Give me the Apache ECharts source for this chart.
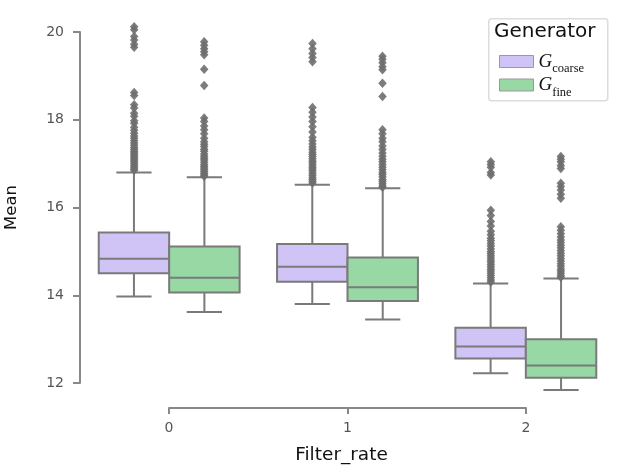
<!DOCTYPE html>
<html lang="en">
<head>
    <meta charset="UTF-8">
    <title>Mean by Filter_rate</title>
    <style>
        html, body { margin: 0; padding: 0; background: #fff; }
        #main { width: 618px; height: 475px; }
    </style>
</head>
<body>
    <div id="main"></div>
    <script src="https://cdn.jsdelivr.net/npm/echarts@6/dist/echarts.min.js"></script>
    <script>
        // x categories (Filter_rate)
        var categories = ['0', '1', '2'];
        var yTicks = [12, 14, 16, 18, 20];

        // [min whisker, q1, median, q3, max whisker] per category
        var coarseBoxes = [
            [13.97, 14.50, 14.83, 15.43, 16.80],
            [13.80, 14.31, 14.65, 15.17, 16.52],
            [12.22, 12.56, 12.83, 13.26, 14.27]
        ];
        var fineBoxes = [
            [13.62, 14.06, 14.40, 15.11, 16.69],
            [13.45, 13.87, 14.18, 14.86, 16.44],
            [11.84, 12.12, 12.40, 13.00, 14.38]
        ];

        // outliers (fliers) per category
        var coarseFliers = [
            [20.12, 20.05, 19.9, 19.82, 19.72, 19.65, 18.62, 18.55, 18.34, 18.27, 18.15, 18.08, 17.98, 17.92,
             17.83, 17.76, 17.69, 17.63, 17.58, 17.52, 17.47, 17.42, 17.37, 17.33, 17.28, 17.24, 17.2, 17.16,
             17.12, 17.08, 17.04, 17.0, 16.96, 16.92, 16.88, 16.85],
            [19.74, 19.62, 19.51, 19.42, 19.32, 18.28, 18.17, 18.06, 17.96, 17.84, 17.72, 17.6, 17.52, 17.45,
             17.38, 17.32, 17.26, 17.21, 17.16, 17.11, 17.06, 17.02, 16.97, 16.92, 16.88, 16.83, 16.78, 16.73,
             16.68, 16.64, 16.6, 16.56],
            [17.04, 16.98, 16.92, 16.8, 16.74, 15.94, 15.82, 15.68, 15.58, 15.46, 15.38, 15.3, 15.24, 15.18,
             15.12, 15.06, 15.0, 14.95, 14.9, 14.85, 14.8, 14.75, 14.7, 14.65, 14.6, 14.55, 14.5, 14.45,
             14.4, 14.35, 14.3]
        ];
        var fineFliers = [
            [19.78, 19.7, 19.62, 19.55, 19.48, 19.15, 18.78, 18.04, 17.96, 17.86, 17.77, 17.68, 17.58, 17.5,
             17.44, 17.39, 17.33, 17.28, 17.22, 17.17, 17.12, 17.08, 17.03, 16.98, 16.94, 16.9, 16.86, 16.82,
             16.78, 16.74, 16.71],
            [19.45, 19.38, 19.3, 19.21, 19.14, 18.83, 18.53, 17.77, 17.68, 17.58, 17.5, 17.4, 17.32, 17.24,
             17.17, 17.1, 17.04, 16.98, 16.92, 16.86, 16.8, 16.75, 16.7, 16.64, 16.59, 16.54, 16.49, 16.46],
            [17.16, 17.1, 17.04, 16.96, 16.89, 16.55, 16.48, 16.4, 16.3, 16.21, 15.56, 15.48, 15.4, 15.33,
             15.26, 15.2, 15.14, 15.08, 15.02, 14.96, 14.9, 14.84, 14.78, 14.72, 14.66, 14.6, 14.55, 14.5,
             14.45, 14.41]
        ];

        var purple = '#d0c3f5';
        var green = '#98d8a5';
        var lineGray = '#7a7a7a';
        var flierGray = '#6e6e6e';
        var boxFrac = 0.395; // box width as share of category band

        function boxRows(boxes) {
            return boxes.map(function (b, i) { return [i].concat(b); });
        }
        function flierRows(fliers) {
            var out = [];
            fliers.forEach(function (list, i) {
                list.forEach(function (v) { out.push([i, v]); });
            });
            return out;
        }

        // side: -1 draws the box left of the category centre, +1 right of it
        function makeBox(side, fill) {
            return function (params, api) {
                var cat = api.value(0);
                var band = api.size([1, 0])[0];
                var w = band * boxFrac;
                var cx = api.coord([cat, api.value(3)])[0];
                var x0 = side < 0 ? cx - w : cx;
                var xc = x0 + w / 2;
                var yMin = api.coord([cat, api.value(1)])[1];
                var yQ1 = api.coord([cat, api.value(2)])[1];
                var yMed = api.coord([cat, api.value(3)])[1];
                var yQ3 = api.coord([cat, api.value(4)])[1];
                var yMax = api.coord([cat, api.value(5)])[1];
                var ln = { stroke: lineGray, lineWidth: 2 };
                return {
                    type: 'group',
                    children: [
                        { type: 'line', shape: { x1: xc, y1: yQ3, x2: xc, y2: yMax }, style: ln },
                        { type: 'line', shape: { x1: xc, y1: yQ1, x2: xc, y2: yMin }, style: ln },
                        { type: 'line', shape: { x1: xc - w / 4, y1: yMax, x2: xc + w / 4, y2: yMax }, style: ln },
                        { type: 'line', shape: { x1: xc - w / 4, y1: yMin, x2: xc + w / 4, y2: yMin }, style: ln },
                        { type: 'rect', shape: { x: x0, y: yQ3, width: w, height: yQ1 - yQ3 },
                          style: { fill: fill, stroke: lineGray, lineWidth: 2 } },
                        { type: 'line', shape: { x1: x0, y1: yMed, x2: x0 + w, y2: yMed }, style: ln }
                    ]
                };
            };
        }

        var myChart = echarts.init(document.getElementById('main'));
        var option = {
            animation: false,
            textStyle: { fontFamily: 'DejaVu Sans' },
            grid: [
                { left: 80, right: 3, top: 32, bottom: 92, outerBoundsMode: 'none' },
                { left: 169, right: 92, top: 407, height: 1, outerBoundsMode: 'none' }
            ],
            xAxis: [
                {
                    type: 'category',
                    data: categories,
                    gridIndex: 0,
                    show: false
                },
                {
                    type: 'value',
                    gridIndex: 1,
                    min: 0,
                    max: 2,
                    interval: 1,
                    name: 'Filter_rate',
                    nameLocation: 'middle',
                    nameGap: 38,
                    nameTextStyle: { fontSize: 18.5, color: '#111', padding: [0, 12, 0, 0] },
                    axisLine: { show: true, lineStyle: { color: '#888', width: 2 } },
                    axisTick: { show: true, length: 6, lineStyle: { color: '#888', width: 2 } },
                    axisLabel: { fontSize: 14, color: '#555', margin: 13,
                        formatter: function (v) { return categories[v]; } },
                    splitLine: { show: false }
                }
            ],
            yAxis: [
                {
                    type: 'value',
                    gridIndex: 0,
                    min: yTicks[0],
                    max: yTicks[yTicks.length - 1],
                    interval: 2,
                    name: 'Mean',
                    nameLocation: 'middle',
                    nameGap: 60,
                    nameTextStyle: { fontSize: 16.5, color: '#111' },
                    axisLine: { show: true, lineStyle: { color: '#888', width: 2 } },
                    axisTick: { show: true, length: 7, lineStyle: { color: '#888', width: 2 } },
                    axisLabel: { fontSize: 14, color: '#555', margin: 16 },
                    splitLine: { show: false }
                },
                { type: 'value', gridIndex: 1, show: false }
            ],
            legend: {
                data: ['coarse', 'fine'],
                orient: 'vertical',
                left: 494,
                top: 47,
                itemWidth: 34,
                itemHeight: 12,
                itemGap: 0,
                icon: 'rect',
                selectedMode: false,
                itemStyle: { borderColor: '#999', borderWidth: 1 },
                formatter: function (name) { return '{g|G}{s|' + name + '}'; },
                textStyle: {
                    rich: {
                        g: { fontFamily: 'Liberation Serif', fontStyle: 'italic', fontSize: 19, color: '#111',
                             lineHeight: 20, verticalAlign: 'middle' },
                        s: { fontFamily: 'Liberation Serif', fontSize: 12.5, color: '#111',
                             lineHeight: 20, verticalAlign: 'bottom', padding: [0, 0, -4, 0] }
                    }
                }
            },
            graphic: [
                {
                    type: 'rect', left: 488, top: 18, z: -1,
                    shape: { width: 119, height: 82, r: 3 },
                    style: { fill: '#fff', stroke: '#dcdcdc', lineWidth: 1.5 }
                },
                {
                    type: 'text', left: 494, top: 22,
                    style: { text: 'Generator', fontSize: 20, fontFamily: 'DejaVu Sans', fill: '#111' }
                }
            ],
            series: [
                {
                    name: 'coarse',
                    type: 'custom',
                    xAxisIndex: 0, yAxisIndex: 0,
                    itemStyle: { color: purple },
                    renderItem: makeBox(-1, purple),
                    encode: { x: 0, y: [1, 2, 3, 4, 5] },
                    data: boxRows(coarseBoxes),
                    z: 2
                },
                {
                    name: 'fine',
                    type: 'custom',
                    xAxisIndex: 0, yAxisIndex: 0,
                    itemStyle: { color: green },
                    renderItem: makeBox(1, green),
                    encode: { x: 0, y: [1, 2, 3, 4, 5] },
                    data: boxRows(fineBoxes),
                    z: 2
                },
                {
                    name: 'coarse fliers',
                    type: 'scatter',
                    xAxisIndex: 0, yAxisIndex: 0,
                    clip: false,
                    symbol: 'diamond',
                    symbolSize: [8.5, 9.5],
                    symbolOffset: [-35, 0],
                    itemStyle: { color: flierGray, opacity: 0.9 },
                    data: flierRows(coarseFliers),
                    z: 3
                },
                {
                    name: 'fine fliers',
                    type: 'scatter',
                    xAxisIndex: 0, yAxisIndex: 0,
                    clip: false,
                    symbol: 'diamond',
                    symbolSize: [8.5, 9.5],
                    symbolOffset: [35, 0],
                    itemStyle: { color: flierGray, opacity: 0.9 },
                    data: flierRows(fineFliers),
                    z: 3
                }
            ]
        };
        myChart.setOption(option);
    </script>
</body>
</html>
